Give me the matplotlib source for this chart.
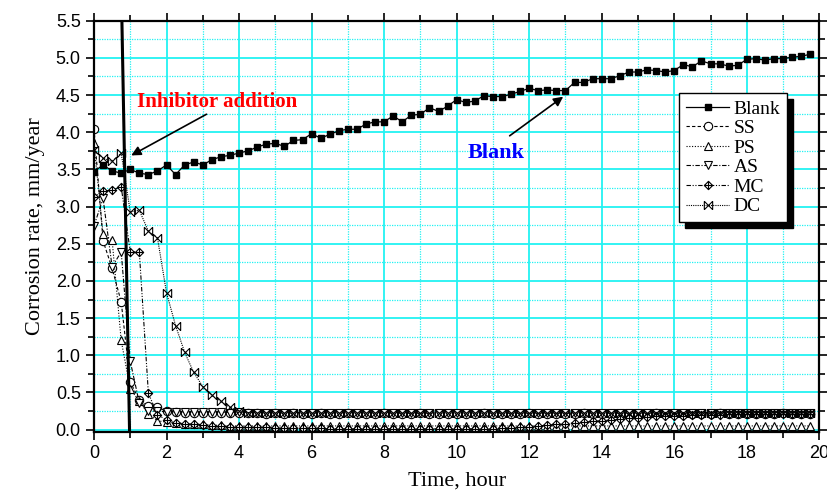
import numpy as np
import matplotlib
matplotlib.use('Agg')
import matplotlib.pyplot as plt
from matplotlib.path import Path

# sampling times, hours (every 15 min)
hours = np.arange(0, 20, 0.25)

blank = [3.47, 3.56, 3.48, 3.45, 3.50, 3.45, 3.43, 3.48, 3.56, 3.43,
         3.56, 3.60, 3.56, 3.63, 3.67, 3.69, 3.72, 3.75, 3.80, 3.84,
         3.85, 3.81, 3.89, 3.90, 3.98, 3.92, 3.97, 4.02, 4.04, 4.04,
         4.11, 4.14, 4.14, 4.22, 4.14, 4.23, 4.24, 4.33, 4.28, 4.35,
         4.44, 4.40, 4.42, 4.49, 4.48, 4.48, 4.51, 4.55, 4.59, 4.56,
         4.57, 4.56, 4.56, 4.67, 4.67, 4.72, 4.72, 4.72, 4.76, 4.81,
         4.81, 4.84, 4.83, 4.81, 4.83, 4.91, 4.88, 4.96, 4.92, 4.92,
         4.89, 4.90, 4.98, 4.99, 4.97, 4.99, 4.99, 5.01, 5.02, 5.05]

ss = [4.05, 2.54, 2.17, 1.72, 0.64, 0.40, 0.32, 0.30, 0.25, 0.24,
      0.23, 0.23, 0.22, 0.22, 0.23, 0.22, 0.22, 0.22, 0.22, 0.21,
      0.22, 0.21, 0.22, 0.21, 0.21, 0.22, 0.21, 0.21, 0.22, 0.21,
      0.21, 0.21, 0.22, 0.21, 0.21, 0.21, 0.22, 0.21, 0.21, 0.21,
      0.21, 0.21, 0.21, 0.22, 0.21, 0.21, 0.21, 0.21, 0.22, 0.21,
      0.21, 0.21, 0.21, 0.21, 0.22, 0.21, 0.21, 0.21, 0.21, 0.21,
      0.21, 0.21, 0.22, 0.21, 0.21, 0.21, 0.21, 0.21, 0.21, 0.22,
      0.21, 0.21, 0.21, 0.21, 0.21, 0.21, 0.22, 0.21, 0.21, 0.21]

ps = [3.85, 2.63, 2.55, 1.20, 0.55, 0.38, 0.21, 0.12, 0.10, 0.09,
      0.08, 0.07, 0.07, 0.06, 0.06, 0.05, 0.05, 0.05, 0.05, 0.05,
      0.05, 0.05, 0.05, 0.05, 0.05, 0.05, 0.05, 0.05, 0.05, 0.05,
      0.05, 0.05, 0.05, 0.05, 0.05, 0.05, 0.05, 0.05, 0.05, 0.05,
      0.05, 0.05, 0.05, 0.05, 0.05, 0.05, 0.05, 0.05, 0.05, 0.05,
      0.05, 0.05, 0.05, 0.05, 0.05, 0.05, 0.05, 0.05, 0.05, 0.05,
      0.05, 0.05, 0.05, 0.05, 0.05, 0.05, 0.05, 0.05, 0.05, 0.05,
      0.05, 0.05, 0.05, 0.05, 0.05, 0.05, 0.05, 0.05, 0.05, 0.05]

as_ = [2.74, 3.11, 2.19, 2.39, 0.92, 0.36, 0.25, 0.25, 0.24, 0.24,
       0.24, 0.24, 0.24, 0.24, 0.24, 0.23, 0.24, 0.23, 0.23, 0.23,
       0.23, 0.23, 0.23, 0.23, 0.23, 0.23, 0.23, 0.23, 0.23, 0.23,
       0.23, 0.23, 0.23, 0.23, 0.23, 0.23, 0.23, 0.23, 0.23, 0.23,
       0.23, 0.23, 0.23, 0.23, 0.23, 0.23, 0.23, 0.23, 0.23, 0.23,
       0.23, 0.23, 0.23, 0.23, 0.23, 0.23, 0.23, 0.23, 0.23, 0.23,
       0.23, 0.23, 0.23, 0.23, 0.23, 0.23, 0.23, 0.23, 0.23, 0.23,
       0.23, 0.23, 0.23, 0.23, 0.23, 0.23, 0.23, 0.23, 0.23, 0.23]

mc = [3.13, 3.21, 3.22, 3.27, 2.39, 2.39, 0.49, 0.20, 0.13, 0.09,
      0.08, 0.07, 0.06, 0.05, 0.05, 0.04, 0.04, 0.03, 0.03, 0.03,
      0.02, 0.02, 0.02, 0.02, 0.02, 0.02, 0.01, 0.01, 0.01, 0.01,
      0.01, 0.01, 0.01, 0.01, 0.01, 0.01, 0.01, 0.01, 0.01, 0.01,
      0.01, 0.01, 0.01, 0.01, 0.01, 0.02, 0.02, 0.03, 0.04, 0.05,
      0.06, 0.07, 0.08, 0.09, 0.10, 0.11, 0.12, 0.13, 0.14, 0.15,
      0.16, 0.17, 0.18, 0.18, 0.19, 0.19, 0.20, 0.20, 0.20, 0.20,
      0.21, 0.21, 0.21, 0.21, 0.21, 0.21, 0.21, 0.21, 0.21, 0.21]

dc = [3.76, 3.65, 3.61, 3.72, 2.93, 2.95, 2.67, 2.58, 1.84, 1.40,
      1.04, 0.77, 0.58, 0.46, 0.38, 0.30, 0.25, 0.23, 0.22, 0.22,
      0.22, 0.22, 0.22, 0.22, 0.22, 0.22, 0.22, 0.22, 0.22, 0.22,
      0.22, 0.22, 0.22, 0.22, 0.22, 0.22, 0.22, 0.22, 0.22, 0.22,
      0.22, 0.22, 0.22, 0.22, 0.22, 0.22, 0.22, 0.22, 0.22, 0.22,
      0.22, 0.22, 0.22, 0.22, 0.22, 0.22, 0.22, 0.22, 0.22, 0.22,
      0.22, 0.22, 0.22, 0.22, 0.22, 0.22, 0.22, 0.22, 0.22, 0.22,
      0.22, 0.22, 0.22, 0.22, 0.22, 0.22, 0.22, 0.22, 0.22, 0.22]

# vertical line marking the inhibitor addition
inhib_x = [0.77, 0.98]
inhib_y = [5.5, 0.0]

serif = 'Liberation Serif'
sans = 'Liberation Sans'

# diamond with a plus inside, and an X closed on the sides
diamond_plus = Path([(0, 1), (1, 0), (0, -1), (-1, 0), (0, 1),
                     (0, 1), (0, -1), (-1, 0), (1, 0)],
                    [Path.MOVETO, Path.LINETO, Path.LINETO, Path.LINETO, Path.CLOSEPOLY,
                     Path.MOVETO, Path.LINETO, Path.MOVETO, Path.LINETO])
bowtie_x = Path([(-1, -1), (1, 1), (-1, 1), (1, -1), (-1, -1), (-1, 1), (1, -1), (1, 1)],
                [Path.MOVETO, Path.LINETO, Path.MOVETO, Path.LINETO,
                 Path.MOVETO, Path.LINETO, Path.MOVETO, Path.LINETO])

fig = plt.figure(figsize=(8.28, 4.93), dpi=100)
ax = fig.add_axes([0.1135, 0.124, 0.876, 0.834])

ax.set_xlim(0, 20)
ax.set_ylim(-0.03, 5.5)
ax.set_xticks(np.arange(0, 21, 2))
ax.set_xticks(np.arange(0, 21, 1), minor=True)
ax.set_yticks(np.arange(0, 5.51, 0.5))
ax.set_yticks(np.arange(0, 5.51, 0.25), minor=True)
ax.yaxis.set_major_formatter(matplotlib.ticker.FormatStrFormatter('%.1f'))

ax.grid(which='major', color='#22f2f2', lw=1.3, ls='-')
ax.grid(which='minor', color='#22f2f2', lw=0.9, ls=(0, (1, 1)))
ax.set_axisbelow(True)

ax.tick_params(which='both', direction='out', top=True, right=True, width=1.2)
ax.tick_params(which='major', length=6)
ax.tick_params(which='minor', length=4)
ax.tick_params(labeltop=False, labelright=False, labelsize=13)
for lab in ax.get_xticklabels() + ax.get_yticklabels():
    lab.set_fontfamily(sans)
for s in ax.spines.values():
    s.set_linewidth(1.6)

ax.plot(inhib_x, inhib_y, color='k', lw=2.2, zorder=5)

kw = dict(color='k', lw=0.8, mfc='white', mec='k', mew=0.8, ms=6)
h_blank, = ax.plot(hours, blank, '-s', color='k', lw=0.9, ms=5, label='Blank', zorder=4)
h_ss, = ax.plot(hours, ss, ls=(0, (3, 2)), marker='o', label='SS', **kw)
h_ps, = ax.plot(hours, ps, ls=(0, (1, 1.5)), marker='^', label='PS', **kw)
h_as, = ax.plot(hours, as_, ls=(0, (4, 1.5, 1, 1.5)), marker='v', label='AS', **kw)
h_mc, = ax.plot(hours, mc, ls=(0, (4, 1.5, 1, 1.5, 1, 1.5)), marker=diamond_plus, label='MC', **kw)
h_dc, = ax.plot(hours, dc, ls=(0, (1, 1)), marker=bowtie_x, label='DC', **kw)

ax.set_xlabel('Time, hour', fontfamily=serif, fontsize=16, labelpad=7)
ax.set_ylabel('Corrosion rate, mm/year', fontfamily=serif, fontsize=16, labelpad=8)

ax.annotate('', xy=(0.96, 3.67), xytext=(3.17, 4.26),
            arrowprops=dict(arrowstyle='-|>', color='k', lw=1.2, mutation_scale=14))
ax.text(3.4, 4.40, 'Inhibitor addition', color='red', fontfamily=serif,
        fontweight='bold', fontsize=15, ha='center', va='center')
ax.annotate('', xy=(13.0, 4.50), xytext=(11.4, 3.93),
            arrowprops=dict(arrowstyle='-|>', color='k', lw=1.2, mutation_scale=14))
ax.text(11.1, 3.72, 'Blank', color='blue', fontfamily=serif,
        fontweight='bold', fontsize=16, ha='center', va='center')

leg = ax.legend(handles=[h_blank, h_ss, h_ps, h_as, h_mc, h_dc],
                loc='upper right', bbox_to_anchor=(0.964, 0.838),
                prop={'family': serif, 'size': 14}, fancybox=False,
                edgecolor='k', framealpha=1, borderpad=0.35, labelspacing=0.1,
                handlelength=2.2, handletextpad=0.25, borderaxespad=0.3,
                shadow={'ox': 4, 'oy': -4, 'color': 'k', 'alpha': 1})
leg.get_frame().set_linewidth(1.0)
leg.set_zorder(10)

fig.savefig('out.png', dpi=100)
